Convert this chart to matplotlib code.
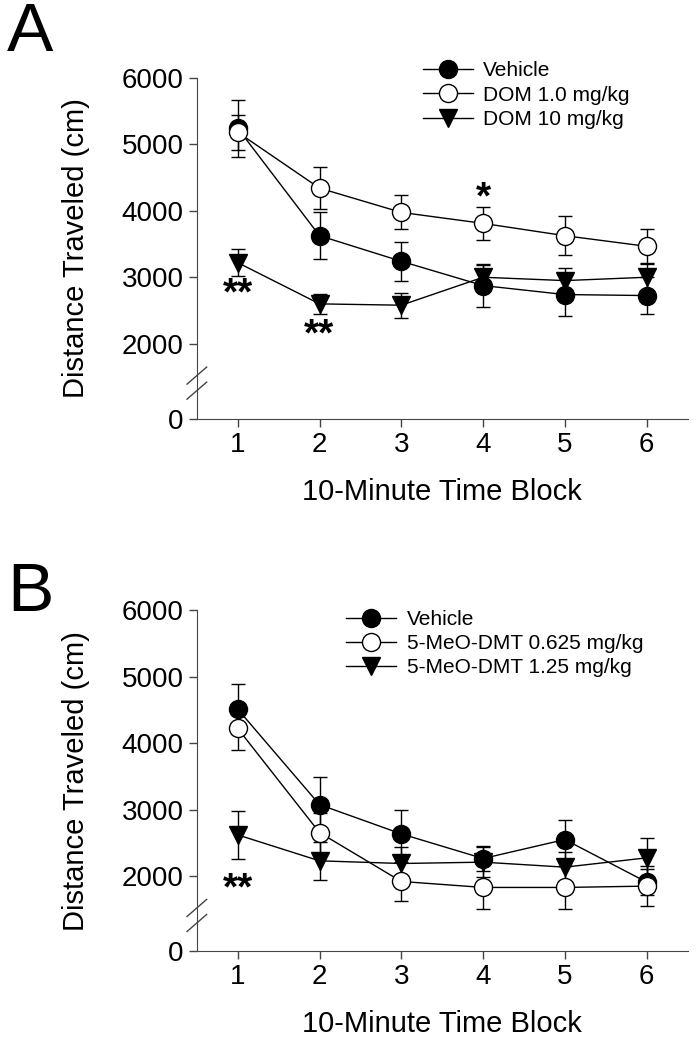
import numpy as np
import matplotlib
matplotlib.use('Agg')
import matplotlib.pyplot as plt
from matplotlib.lines import Line2D

plt.rcParams['font.family'] = ['Liberation Sans', 'DejaVu Sans']

blocks = [1, 2, 3, 4, 5, 6]

# panel A: DOM
a_labels = ['Vehicle', 'DOM 1.0 mg/kg', 'DOM 10 mg/kg']
a_veh = [5240, 3625, 3240, 2875, 2740, 2725]
a_veh_err = [430, 350, 290, 320, 320, 280]
a_low = [5180, 4340, 3975, 3810, 3625, 3465]
a_low_err = [260, 320, 255, 250, 295, 255]
a_high = [3220, 2600, 2580, 3000, 2950, 3000]
a_high_err = [200, 145, 190, 190, 190, 200]
a_stars = [(1, 2850, '**'), (2, 2230, '**'), (4, 4290, '*')]

# panel B: 5-MeO-DMT
b_labels = ['Vehicle', '5-MeO-DMT 0.625 mg/kg', '5-MeO-DMT 1.25 mg/kg']
b_veh = [4510, 3075, 2635, 2265, 2550, 1910]
b_veh_err = [380, 410, 360, 190, 300, 200]
b_low = [4220, 2655, 1920, 1830, 1830, 1850]
b_low_err = [320, 300, 290, 330, 320, 300]
b_high = [2620, 2230, 2190, 2210, 2135, 2275]
b_high_err = [360, 290, 250, 230, 230, 300]
b_stars = [(1, 1900, '**')]

yticks = [0, 2000, 3000, 4000, 5000, 6000]

# broken axis: everything below 1500 squeezed into a short stub
BRK, ZERO = 1500.0, 870.0


def fwd(v):
    v = np.asarray(v, dtype=float)
    return np.where(v >= BRK, v, ZERO + v * (BRK - ZERO) / BRK)


def inv(u):
    u = np.asarray(u, dtype=float)
    return np.where(u >= BRK, u, (u - ZERO) * BRK / (BRK - ZERO))


styles = [dict(marker='o', mfc='black'),
          dict(marker='o', mfc='white'),
          dict(marker='v', mfc='black')]


def panel(ax, series, errs, labels, stars, leg_xy):
    ax.set_yscale('function', functions=(fwd, inv))
    for vals, err, st, lab in zip(series, errs, styles, labels):
        ax.errorbar(blocks, vals, yerr=err, color='black', lw=1.0,
                    elinewidth=1.0, capsize=5, capthick=1.0,
                    marker=st['marker'], mfc=st['mfc'], mec='black',
                    mew=1.0, ms=13, label=lab, zorder=3)
    # asterisk glyph sits high in the line box, so nudge it down
    for x, y, s in stars:
        ax.annotate(s, (x, y), xytext=(0, -5), textcoords='offset points',
                    ha='center', va='center', fontsize=28, fontweight='bold')
    ax.set_xlim(0.5, 6.5)
    ax.set_ylim(0, 6000)
    ax.set_xticks(blocks)
    ax.set_yticks(yticks)
    ax.set_yticklabels([str(t) for t in yticks])
    ax.tick_params(labelsize=20, direction='out', length=6, width=1,
                   color='#444444')
    ax.spines['top'].set_visible(False)
    ax.spines['right'].set_visible(False)
    for s in ['left', 'bottom']:
        ax.spines[s].set_color('#444444')
    ax.set_ylabel('Distance Traveled (cm)', fontsize=21, labelpad=23)
    ax.set_xlabel('10-Minute Time Block', fontsize=21, labelpad=14)
    # break marks on the y axis
    yb = 0.105
    for off in (-0.022, 0.022):
        ax.add_line(Line2D([-0.02, 0.02], [yb + off - 0.025, yb + off + 0.025],
                           transform=ax.transAxes, color='#444444', lw=1,
                           clip_on=False))
    handles = [Line2D([0], [0], color='black', lw=1, marker=st['marker'],
                      mfc=st['mfc'], mec='black', ms=13) for st in styles]
    ax.legend(handles, labels, loc='upper left', bbox_to_anchor=leg_xy,
              frameon=False, fontsize=15, handlelength=2.4,
              handletextpad=0.5, labelspacing=0.25, borderaxespad=0)


fig = plt.figure(figsize=(6.98, 10.5), dpi=100)
ax1 = fig.add_axes([0.282, 0.601, 0.703, 0.325])
ax2 = fig.add_axes([0.282, 0.094, 0.703, 0.325])

panel(ax1, [a_veh, a_low, a_high], [a_veh_err, a_low_err, a_high_err],
      a_labels, a_stars, (0.443, 1.072))
panel(ax2, [b_veh, b_low, b_high], [b_veh_err, b_low_err, b_high_err],
      b_labels, b_stars, (0.288, 1.025))

fig.text(0.01, 0.999, 'A', fontsize=50, va='top', ha='left')
fig.text(0.01, 0.466, 'B', fontsize=50, va='top', ha='left')

fig.savefig('out.png', dpi=100)
